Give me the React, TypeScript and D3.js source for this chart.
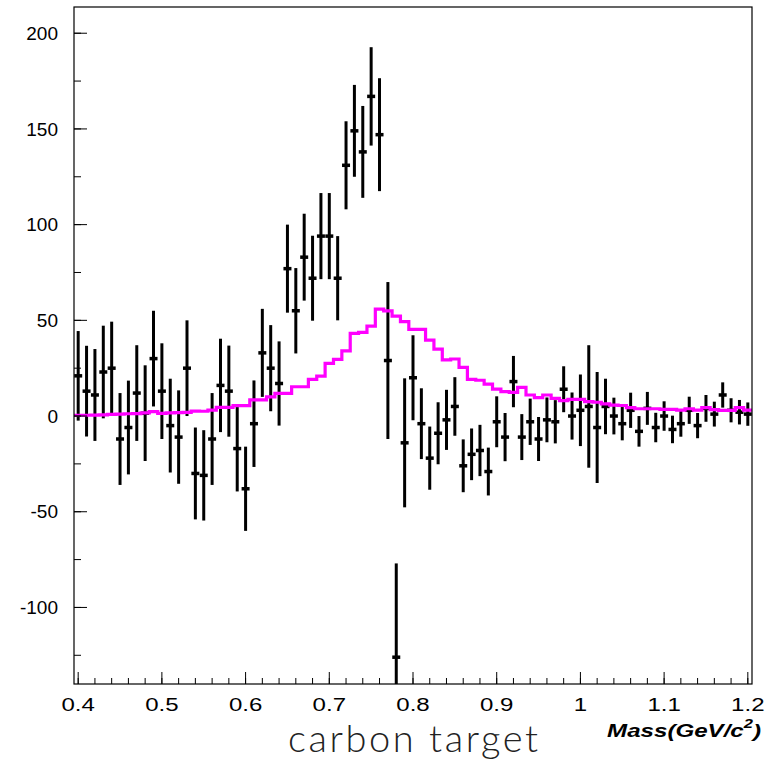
import React, { useEffect, useRef } from "react";
import * as d3 from "d3";

// bin centres 0.40 ... 1.20 GeV/c^2, bin width 0.01
const binWidth = 0.01;
const massCenters = d3.range(81).map((i) => +(0.4 + i * binWidth).toFixed(2));

// background-subtracted counts (black points)
const counts = [
  21, 13, 11, 23, 25, -12, -6, 12, 1.5, 30,
  13, -5, -11, 25, -30, -31, -12, 16, 13, -17,
  -38, -4, 33, 25, 17, 77, 55, 83, 72, 94,
  94, 72, 131, 149, 138, 167, 147, 29, -126, -14,
  20, -4, -22, -9, -2, 5, -26, -20, -18, -29,
  -3, -11, 18, -11, -3, -12, -2, -3, 14, 0,
  3, 5, -6, 5, 0, -4, 3, -8, 4, -6,
  0, -7, -4, 3, -5, 4, 1, 11, 3, 2,
  1,
];

const errors = [
  23.4, 23.7, 24, 24.2, 24.3, 24, 24.5, 25, 25, 25,
  25, 24.5, 24.4, 25, 24, 23.6, 24, 24.4, 23.8, 22.4,
  22, 22.6, 23, 22.5, 22, 23, 22.3, 22.7, 22.2, 22.5,
  22.5, 22, 23, 24, 24, 25.7, 29.5, 41, 49, 33.7,
  22.2, 18.5, 16.5, 16.2, 15.7, 15.3, 13.8, 13.5, 13.4, 12.5,
  13.3, 12.6, 13.4, 12, 12.1, 11.5, 11.7, 11.3, 12, 12.3,
  18.7, 32, 29, 14.5, 9.6, 8.7, 9.2, 8, 8.6, 7.7,
  7.7, 7.2, 6.8, 7.1, 6.6, 7, 6.5, 6.6, 6.3, 6.4,
  6.1,
];

// magenta reference histogram
const model = [
  0.4, 0.4, 0.5, 0.6, 0.9, 1.0, 1.2, 1.3, 1.7, 2.3,
  1.4, 1.6, 1.8, 1.9, 2.6, 2.5, 3.1, 4.5, 4.5, 5.4,
  5.4, 8.4, 8.4, 10, 11.8, 11.8, 15.3, 15.3, 19.2, 20.9,
  27.5, 29.6, 34, 43.2, 43.7, 47, 55.9, 54.9, 52.2, 49.3,
  45.3, 45.3, 39.7, 35, 29.3, 29.8, 25.4, 19.2, 18.7, 16.7,
  14.1, 12.7, 12.4, 15, 11, 9.6, 11, 9.2, 8, 8.7,
  8.7, 7.5, 7.2, 6.4, 5.7, 5.5, 4.4, 3.8, 3.8, 3.8,
  3.5, 3.5, 3.1, 3.8, 3.1, 4.4, 3.3, 3, 3, 4.4,
  3.1,
];

const xMajorTicks = [0.4, 0.5, 0.6, 0.7, 0.8, 0.9, 1.0, 1.1, 1.2];
const yMajorTicks = [-100, -50, 0, 50, 100, 150, 200];

const App = () => {
  const svgRef = useRef<SVGSVGElement>(null);

  useEffect(() => {
    const width = 765;
    const height = 761;
    const frame = { left: 74, right: 752, top: 7, bottom: 684 };

    const svg = d3.select(svgRef.current);
    svg.selectAll("*").remove();
    svg.attr("width", width).attr("height", height);

    const x = d3.scaleLinear().domain([0.395, 1.205]).range([frame.left, frame.right]);
    const y = d3.scaleLinear().domain([-140, 213.7]).range([frame.bottom, frame.top]);

    svg.append("rect").attr("width", width).attr("height", height).attr("fill", "white");

    svg
      .append("clipPath")
      .attr("id", "plot-clip")
      .append("rect")
      .attr("x", frame.left)
      .attr("y", frame.top)
      .attr("width", frame.right - frame.left)
      .attr("height", frame.bottom - frame.top);

    const plot = svg.append("g").attr("clip-path", "url(#plot-clip)");

    // data points with error bars
    const points = massCenters.map((m, i) => ({ m, v: counts[i], e: errors[i] }));
    plot
      .selectAll(".err")
      .data(points)
      .enter()
      .append("line")
      .attr("x1", (d) => x(d.m))
      .attr("x2", (d) => x(d.m))
      .attr("y1", (d) => y(d.v + d.e))
      .attr("y2", (d) => y(d.v - d.e))
      .attr("stroke", "black")
      .attr("stroke-width", 3);

    plot
      .selectAll(".mark")
      .data(points)
      .enter()
      .append("rect")
      .attr("x", (d) => x(d.m) - 4)
      .attr("y", (d) => y(d.v) - 1.75)
      .attr("width", 8)
      .attr("height", 3.5)
      .attr("fill", "black");

    // magenta step histogram
    const edges = massCenters.map((m) => m - binWidth / 2);
    const steps = edges.map((e, i) => [e, model[i]] as [number, number]);
    steps.push([massCenters[massCenters.length - 1] + binWidth / 2, model[model.length - 1]]);
    const stepLine = d3
      .line<[number, number]>()
      .x((d) => x(d[0]))
      .y((d) => y(d[1]))
      .curve(d3.curveStepAfter);
    plot
      .append("path")
      .datum(steps)
      .attr("d", stepLine)
      .attr("fill", "none")
      .attr("stroke", "#ff00ff")
      .attr("stroke-width", 3.2);

    // frame
    svg
      .append("rect")
      .attr("x", frame.left)
      .attr("y", frame.top)
      .attr("width", frame.right - frame.left)
      .attr("height", frame.bottom - frame.top)
      .attr("fill", "none")
      .attr("stroke", "black")
      .attr("stroke-width", 1.2);

    // x axis ticks (inside, pointing up)
    const xMinor = d3.range(0.4, 1.2001, 0.02);
    svg
      .selectAll(".xminor")
      .data(xMinor)
      .enter()
      .append("line")
      .attr("x1", (d) => x(d))
      .attr("x2", (d) => x(d))
      .attr("y1", frame.bottom)
      .attr("y2", frame.bottom - 6)
      .attr("stroke", "black");
    svg
      .selectAll(".xmajor")
      .data(xMajorTicks)
      .enter()
      .append("line")
      .attr("x1", (d) => x(d))
      .attr("x2", (d) => x(d))
      .attr("y1", frame.bottom)
      .attr("y2", frame.bottom - 12)
      .attr("stroke", "black");
    // tick labels along x are drawn a bit wider than the y ones, as in the original
    svg
      .selectAll(".xlabel")
      .data(xMajorTicks)
      .enter()
      .append("text")
      .attr("transform", (d) => `translate(${x(d)},711) scale(1.3,1)`)
      .attr("text-anchor", "middle")
      .style("font-family", "Liberation Sans, Arial, sans-serif")
      .style("font-size", "18.5px")
      .text((d) => d3.format("")(d));

    // y axis ticks (inside, pointing right)
    const yMinor = d3.range(-125, 201, 25);
    svg
      .selectAll(".yminor")
      .data(yMinor)
      .enter()
      .append("line")
      .attr("x1", frame.left)
      .attr("x2", frame.left + 7)
      .attr("y1", (d) => y(d))
      .attr("y2", (d) => y(d))
      .attr("stroke", "black");
    svg
      .selectAll(".ymajor")
      .data(yMajorTicks)
      .enter()
      .append("line")
      .attr("x1", frame.left)
      .attr("x2", frame.left + 13)
      .attr("y1", (d) => y(d))
      .attr("y2", (d) => y(d))
      .attr("stroke", "black");
    svg
      .selectAll(".ylabel")
      .data(yMajorTicks)
      .enter()
      .append("text")
      .attr("x", 58)
      .attr("y", (d) => y(d))
      .attr("dy", "0.35em")
      .attr("text-anchor", "end")
      .style("font-family", "Liberation Sans, Arial, sans-serif")
      .style("font-size", "19px")
      .text((d) => d);

    // axis title
    const title = svg
      .append("text")
      .attr("transform", "translate(761,737) scale(1.27,1)")
      .attr("text-anchor", "end")
      .style("font-family", "Liberation Sans, Arial, sans-serif")
      .style("font-size", "19px")
      .style("font-weight", "bold")
      .style("font-style", "italic");
    title.append("tspan").text("Mass(GeV/c");
    title.append("tspan").attr("dy", -9).style("font-size", "13px").text("2");
    title.append("tspan").attr("dy", 9).text(")");

    // caption
    svg
      .append("text")
      .attr("x", 288)
      .attr("y", 752)
      .attr("textLength", 250)
      .attr("lengthAdjust", "spacing")
      .style("font-family", "Lato, 'DejaVu Sans', sans-serif")
      .style("font-weight", 300)
      .style("font-size", "38px")
      .attr("fill", "#222")
      .text("carbon target");
  }, []);

  return (
    <div style={{ position: "absolute", left: 0, top: 0 }}>
      <svg ref={svgRef}></svg>
    </div>
  );
};

export default App;
